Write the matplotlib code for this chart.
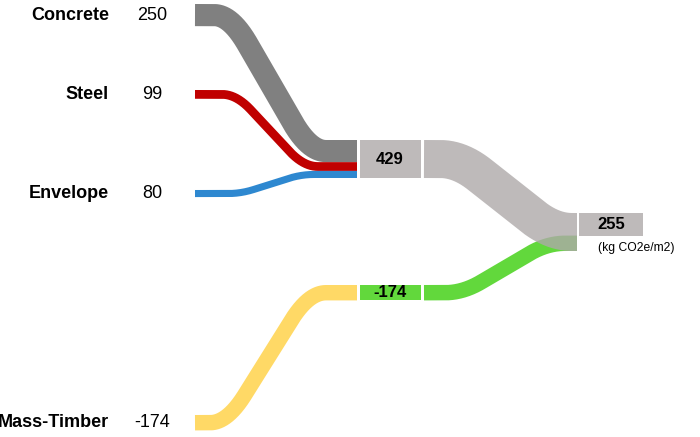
import numpy as np
import matplotlib
matplotlib.use('Agg')
import matplotlib.pyplot as plt

# data
sources = ["Concrete", "Steel", "Envelope", "Mass-Timber"]
values = [250, 99, 80, -174]
colors = ["#808080", "#C00000", "#2E88D0", "#FFD966"]
source_top = [4, 90, 190, 415]   # layout, px from top
units = "(kg CO2e/m2)"

pos_total = sum(v for v in values if v > 0)    # 429
neg_total = sum(v for v in values if v < 0)    # -174
net_total = pos_total + neg_total              # 255

k = 38.0 / 429  # px per unit
green = "#62D83C"
light = "#BEBABA"
band_gray = "#AEA9A9"  # drawn with alpha -> light over white

plt.rcParams['font.family'] = ['Liberation Sans', 'DejaVu Sans']
fig = plt.figure(figsize=(7, 4.37), dpi=100)
ax = fig.add_axes([0, 0, 1, 1])
ax.set_xlim(0, 700)
ax.set_ylim(437, 0)
ax.axis('off')


def ease(t, r=0.3):
    # slope ramps up, stays flat, ramps down -> straight middle, round corners
    t = np.clip(t, 0, 1)
    out = np.where(
        t < r, t ** 2 / (2 * r),
        np.where(t < 1 - r, t - r / 2, (1 - r) - (1 - t) ** 2 / (2 * r)))
    return out / (1 - r)


def band(xa, xb, x0, x1, ya, yb, h, **kw):
    # thick stroke along the centre line, width h px
    xs = np.linspace(xa, xb, 600)
    yc = ya + h / 2 + (yb - ya) * ease((xs - x0) / (x1 - x0))
    ax.plot(xs, yc, linewidth=h * 0.72, solid_capstyle='butt',
            solid_joinstyle='round', **kw)


# left flows into the two middle nodes
mid_top_pos = 140
mid_top_neg = 285
trans = [(214, 326), (222, 318), (228, 314), (210, 326)]
cum = mid_top_pos
for name, v, c, yt, (x0, x1) in zip(sources, values, colors, source_top, trans):
    h = abs(v) * k
    if v > 0:
        yb = cum
        cum += h
    else:
        yb = mid_top_neg
    band(195, 357, x0, x1, yt, yb, h, color=c, zorder=2)
    ax.text(109, yt + h / 2, name, ha='right', va='center', fontsize=13,
            fontweight='bold')
    ax.text(152, yt + h / 2, str(v), ha='center', va='center', fontsize=13)

# middle nodes
ax.bar(390, pos_total * k, width=61, bottom=mid_top_pos, color=light, zorder=2)
ax.text(390, mid_top_pos + pos_total * k / 2, str(pos_total), ha='center',
        va='center', fontsize=12, fontweight='bold', zorder=3)
ax.bar(390, abs(neg_total) * k, width=61, bottom=mid_top_neg, color=green,
       zorder=2)
ax.text(390, mid_top_neg + abs(neg_total) * k / 2, str(neg_total),
        ha='center', va='center', fontsize=12, fontweight='bold', zorder=3)

# right flows into the output node
out_top = 213
band(424, 577, 445, 565, mid_top_neg, out_top + net_total * k,
     abs(neg_total) * k, color=green, zorder=2)
band(424, 577, 440, 572, mid_top_pos, out_top, pos_total * k,
     color=band_gray, alpha=0.8, zorder=3)

ax.bar(611, net_total * k, width=64, bottom=out_top, color=light, zorder=2)
ax.text(611, out_top + net_total * k / 2, str(net_total), ha='center',
        va='center', fontsize=12, fontweight='bold', zorder=3)
ax.text(598, 248, units, ha='left', va='center', fontsize=8.7)

fig.savefig("out.png", dpi=100)
plt.close(fig)
